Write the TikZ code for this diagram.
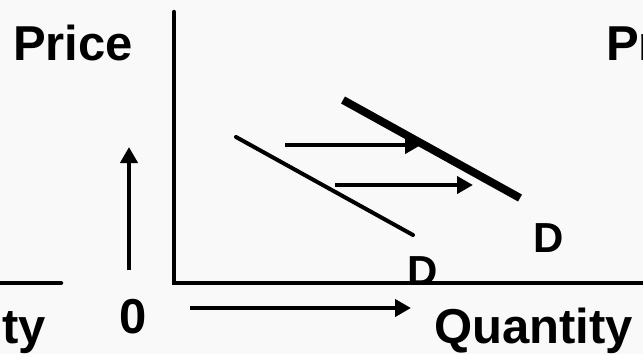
\documentclass[tikz,border=0pt]{standalone}
\usepackage{fontspec}
\setmainfont{Liberation Sans}
\usetikzlibrary{arrows.meta}
\definecolor{bg}{RGB}{249,249,249}
\tikzset{
  lbl/.style={inner sep=0pt, outer sep=0pt, font=\fontsize{49}{51}\selectfont\bfseries},
  dlbl/.style={inner sep=0pt, outer sep=0pt, font=\fontsize{42}{44}\selectfont\bfseries},
  axisline/.style={line width=4.5pt, line cap=round},
  shift arrow/.style={line width=4pt, -{Triangle[width=17pt,length=16pt]}},
  demand/.style={line width=4pt, line cap=round},
  demandnew/.style={line width=8pt},
}
\begin{document}
\begin{tikzpicture}[x=1pt,y=-1pt]
\useasboundingbox[fill=bg] (0,0) rectangle (643,354);
% labels
\node[lbl, anchor=base west] (priceL) at (13,60) {Price};
\node[lbl, anchor=base west] (priceR) at (606,60) {Price};
\node[lbl, anchor=base east] (qtyL) at (46,343) {Quantity};
\node[lbl, anchor=base west] (qtyR) at (434,343) {Quantity};
\node[lbl, anchor=base west] (zero) at (119,333) {0};
\node[dlbl, anchor=base west] (d1) at (407,285) {D};
\node[dlbl, anchor=base west] (d2) at (533,252) {D};
% axes
\coordinate (ytop) at (174,12);
\coordinate (orig) at (174,283);
\coordinate (xend) at (660,283);
\coordinate (lstart) at (-10,283);
\coordinate (lend) at (61,283);
\draw[axisline] (ytop) -- (orig) -- (xend);
\draw[axisline] (lstart) -- (lend);
% vertical and horizontal arrows
\coordinate (ua) at (129,270);
\coordinate (ub) at (129,147);
\draw[shift arrow] (ua) -- (ub);
\coordinate (ba) at (190,308);
\coordinate (bb) at (411,308);
\draw[shift arrow] (ba) -- (bb);
% demand curves
\coordinate (d1a) at (236,137);
\coordinate (d1b) at (413,235);
\draw[demand] (d1a) -- (d1b);
\coordinate (d2a) at (343,100);
\coordinate (d2b) at (520,198);
\draw[demandnew] (d2a) -- (d2b);
% shift arrows
\coordinate (s1a) at (285,145);
\coordinate (s1b) at (421,145);
\draw[shift arrow] (s1a) -- (s1b);
\coordinate (s2a) at (335,185);
\coordinate (s2b) at (473,185);
\draw[shift arrow] (s2a) -- (s2b);
\end{tikzpicture}
\end{document}
